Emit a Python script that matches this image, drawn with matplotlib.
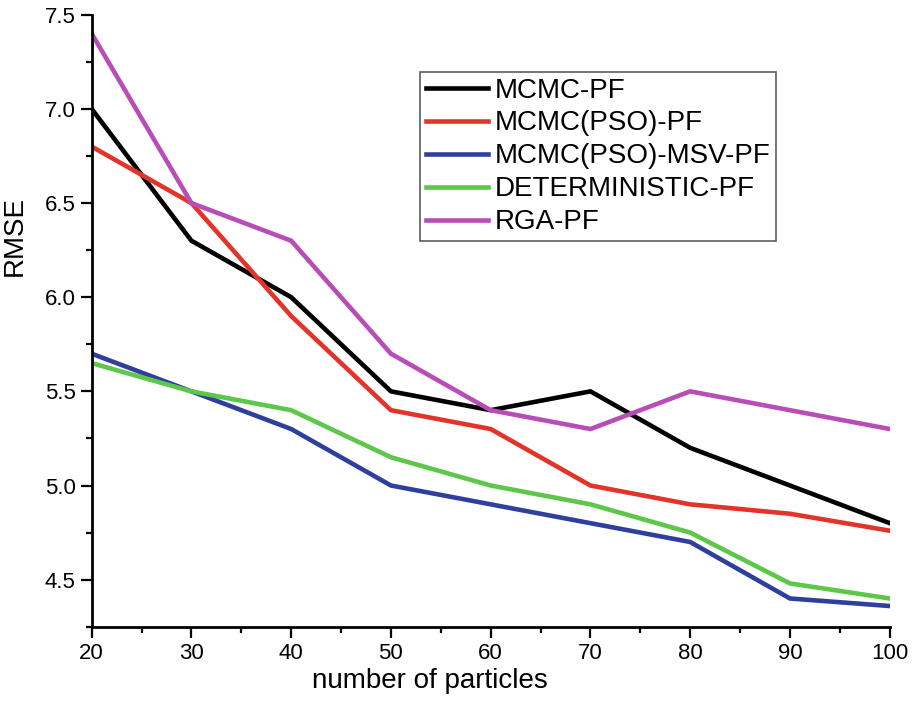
import matplotlib
matplotlib.use("Agg")
import matplotlib.pyplot as plt
from matplotlib.ticker import MultipleLocator, AutoMinorLocator

plt.rcParams['font.family'] = ['Liberation Sans', 'DejaVu Sans']

# data
particles = [20, 30, 40, 50, 60, 70, 80, 90, 100]
mcmc_pf = [7.0, 6.3, 6.0, 5.5, 5.4, 5.5, 5.2, 5.0, 4.8]
mcmc_pso_pf = [6.8, 6.5, 5.9, 5.4, 5.3, 5.0, 4.9, 4.85, 4.76]
mcmc_pso_msv_pf = [5.7, 5.5, 5.3, 5.0, 4.9, 4.8, 4.7, 4.4, 4.36]
deterministic_pf = [5.65, 5.5, 5.4, 5.15, 5.0, 4.9, 4.75, 4.48, 4.4]
rga_pf = [7.4, 6.5, 6.3, 5.7, 5.4, 5.3, 5.5, 5.4, 5.3]

series = [
    ("MCMC-PF", mcmc_pf, "#000000"),
    ("MCMC(PSO)-PF", mcmc_pso_pf, "#e3342a"),
    ("MCMC(PSO)-MSV-PF", mcmc_pso_msv_pf, "#2e3f9e"),
    ("DETERMINISTIC-PF", deterministic_pf, "#5cc748"),
    ("RGA-PF", rga_pf, "#b94db8"),
]

fig = plt.figure(figsize=(9.13, 7.03), dpi=100)
ax = fig.add_axes([0.1004, 0.1085, 0.8741, 0.8705])

for name, vals, col in series:
    ax.plot(particles, vals, color=col, lw=3.3, label=name, solid_joinstyle='miter')

ax.set_xlim(20, 100)
ax.set_ylim(4.25, 7.5)
ax.xaxis.set_major_locator(MultipleLocator(10))
ax.xaxis.set_minor_locator(AutoMinorLocator(2))
ax.yaxis.set_major_locator(MultipleLocator(0.5))
ax.yaxis.set_minor_locator(AutoMinorLocator(2))
ax.yaxis.set_major_formatter(matplotlib.ticker.FormatStrFormatter('%.1f'))

ax.spines['top'].set_visible(False)
ax.spines['right'].set_visible(False)
ax.spines['left'].set_linewidth(2)
ax.spines['bottom'].set_linewidth(2)
ax.tick_params(which='major', direction='out', length=8, width=1.6, labelsize=16)
ax.tick_params(which='minor', direction='out', length=4.5, width=1.6)

ax.set_xlabel("number of particles", fontsize=20)
ax.set_ylabel("RMSE", fontsize=20)
ax.xaxis.set_label_coords(0.424, -0.067)
ax.yaxis.set_label_coords(-0.08, 0.638)

leg = ax.legend(loc='upper left', bbox_to_anchor=(0.46, 0.8976), bbox_transform=fig.transFigure,
                fontsize=20, frameon=True, fancybox=False, borderaxespad=0,
                handlelength=2.25, handletextpad=0.25, labelspacing=0.25,
                borderpad=0.2)
leg.get_frame().set_edgecolor('#333333')
leg.get_frame().set_linewidth(1.2)

fig.savefig("out.png", dpi=100)
